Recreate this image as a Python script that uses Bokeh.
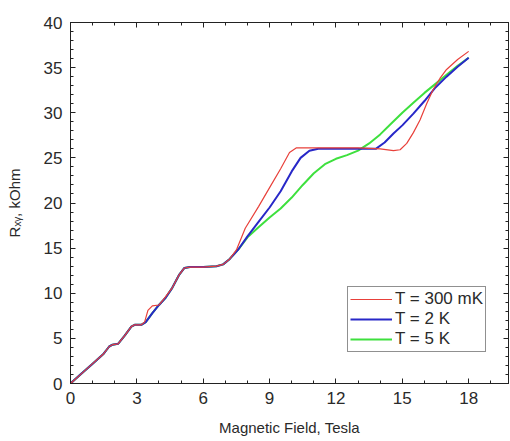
from bokeh.plotting import figure
from bokeh.models import (SingleIntervalTicker, LinearAxis, Range1d, Legend, LegendItem)
from bokeh.embed import file_html
from bokeh.resources import INLINE

# ---- data ----
field_300mK = [0, 0.5, 1.0, 1.5, 1.75, 1.9, 2.15, 2.45, 2.75, 2.9, 3.2, 3.35, 3.5, 3.7, 4.0, 4.2,
               4.6, 4.9, 5.15, 5.4, 6.0, 6.6, 6.9, 7.2, 7.5, 7.9, 8.5, 9.0, 9.5, 9.9, 10.2, 11.0,
               12.0, 13.0, 14.0, 14.6, 14.9, 15.2, 15.5, 15.8, 16.1, 16.4, 16.7, 17.0, 17.5, 18.0]
rxy_300mK = [0, 1.1, 2.2, 3.3, 4.1, 4.3, 4.4, 5.3, 6.3, 6.5, 6.5, 6.8, 8.1, 8.6, 8.7, 9.3,
             10.6, 12.0, 12.8, 12.9, 12.9, 13.0, 13.2, 13.8, 14.8, 17.2, 19.6, 21.7, 23.8, 25.6, 26.1, 26.1,
             26.1, 26.1, 26.0, 25.8, 25.9, 26.6, 27.8, 29.2, 31.0, 32.6, 33.8, 34.8, 35.9, 36.8]

field_2K = [0, 0.5, 1.0, 1.5, 1.75, 1.9, 2.15, 2.45, 2.75, 2.9, 3.2, 3.4, 3.7, 4.0, 4.3,
            4.6, 4.9, 5.15, 5.4, 6.0, 6.6, 6.9, 7.2, 7.6, 8.0, 8.5, 9.0, 9.5, 10.0, 10.4, 10.8,
            11.2, 12.0, 13.0, 13.8, 14.2, 14.6, 15.0, 15.5, 16.0, 16.5, 17.0, 17.5, 18.0]
rxy_2K = [0, 1.1, 2.2, 3.3, 4.1, 4.3, 4.4, 5.3, 6.3, 6.5, 6.5, 6.8, 7.8, 8.7, 9.5,
          10.6, 12.0, 12.8, 12.9, 12.9, 13.0, 13.2, 13.8, 14.9, 16.3, 17.9, 19.5, 21.3, 23.5, 25.0, 25.8,
          26.0, 26.0, 26.0, 26.0, 26.7, 27.7, 28.6, 29.9, 31.3, 32.8, 34.0, 35.1, 36.1]

field_5K = [0, 0.5, 1.0, 1.5, 1.75, 1.9, 2.15, 2.45, 2.75, 2.9, 3.2, 3.4, 3.7, 4.0, 4.3,
            4.6, 4.9, 5.15, 5.4, 6.0, 6.6, 6.9, 7.2, 7.6, 8.0, 8.5, 9.0, 9.5, 10.0, 10.5, 11.0,
            11.5, 12.0, 12.5, 13.0, 13.5, 14.0, 14.5, 15.0, 15.5, 16.0, 16.5, 17.0, 17.5, 18.0]
rxy_5K = [0, 1.1, 2.2, 3.3, 4.1, 4.3, 4.4, 5.3, 6.3, 6.5, 6.5, 6.8, 7.8, 8.7, 9.5,
          10.6, 12.0, 12.8, 12.9, 12.9, 13.0, 13.2, 13.8, 14.9, 16.2, 17.3, 18.4, 19.4, 20.6, 22.0, 23.3,
          24.3, 24.9, 25.3, 25.8, 26.6, 27.6, 28.8, 30.0, 31.1, 32.2, 33.2, 34.2, 35.2, 36.1]

labels = ["T = 300 mK", "T = 2 K", "T = 5 K"]
x_label = "Magnetic Field, Tesla"
y_label = "R\u2093\u1d67, kOhm"

FONT = "Liberation Sans"
TXT = "#2a2a2a"

p = figure(width=510, height=441, output_backend="svg", toolbar_location=None,
           x_range=Range1d(0, 19.8), y_range=Range1d(0, 40),
           min_border_left=70, min_border_top=22, min_border_right=2, min_border_bottom=58,
           x_axis_label=x_label, y_axis_label=y_label)
p.background_fill_color = "white"
p.border_fill_color = "white"
p.outline_line_color = "#222222"
p.outline_line_width = 1
p.grid.visible = False

p.xaxis.ticker = SingleIntervalTicker(interval=3, num_minor_ticks=3)
p.yaxis.ticker = SingleIntervalTicker(interval=5, num_minor_ticks=5)

def style_axis(ax, show_labels=True):
    ax.axis_line_color = "#222222"
    ax.major_tick_line_color = "#222222"
    ax.minor_tick_line_color = "#222222"
    ax.major_tick_in = 5
    ax.major_tick_out = 0
    ax.minor_tick_in = 3
    ax.minor_tick_out = 0
    ax.major_label_text_font = FONT
    ax.major_label_text_color = TXT
    ax.axis_label_text_font = FONT
    ax.axis_label_text_color = TXT
    ax.axis_label_text_font_style = "normal"
    if not show_labels:
        ax.major_label_text_font_size = "0px"
        ax.major_label_standoff = 0
        ax.major_label_text_alpha = 0

for ax in p.xaxis:
    style_axis(ax)
    ax.major_label_text_font_size = "17px"
    ax.major_label_standoff = 8
    ax.axis_label_text_font_size = "15px"
    ax.axis_label_standoff = 12
for ax in p.yaxis:
    style_axis(ax)
    ax.major_label_text_font_size = "17px"
    ax.major_label_standoff = 8
    ax.axis_label_text_font_size = "15px"
    ax.axis_label_standoff = 18

top = LinearAxis(ticker=SingleIntervalTicker(interval=3, num_minor_ticks=3))
style_axis(top, show_labels=False)
p.add_layout(top, "above")
right = LinearAxis(ticker=SingleIntervalTicker(interval=5, num_minor_ticks=5))
style_axis(right, show_labels=False)
p.add_layout(right, "right")

r5 = p.line(field_5K, rxy_5K, line_color="#3ee03e", line_width=2)
r2 = p.line(field_2K, rxy_2K, line_color="#2828c8", line_width=2)
r03 = p.line(field_300mK, rxy_300mK, line_color="#e8403a", line_width=1.2)

legend = Legend(items=[LegendItem(label=labels[0], renderers=[r03]),
                       LegendItem(label=labels[1], renderers=[r2]),
                       LegendItem(label=labels[2], renderers=[r5])],
                location=(277, 31))
legend.border_line_color = "#222222"
legend.border_line_width = 1
legend.background_fill_color = "white"
legend.background_fill_alpha = 1
legend.label_text_font = FONT
legend.label_text_font_size = "17px"
legend.label_text_color = TXT
legend.glyph_width = 42
legend.glyph_height = 16
legend.label_height = 16
legend.label_standoff = 3
legend.spacing = 0
legend.padding = 2
legend.margin = 0
p.add_layout(legend, "center")

open("out.html", "w").write(file_html(p, INLINE))
